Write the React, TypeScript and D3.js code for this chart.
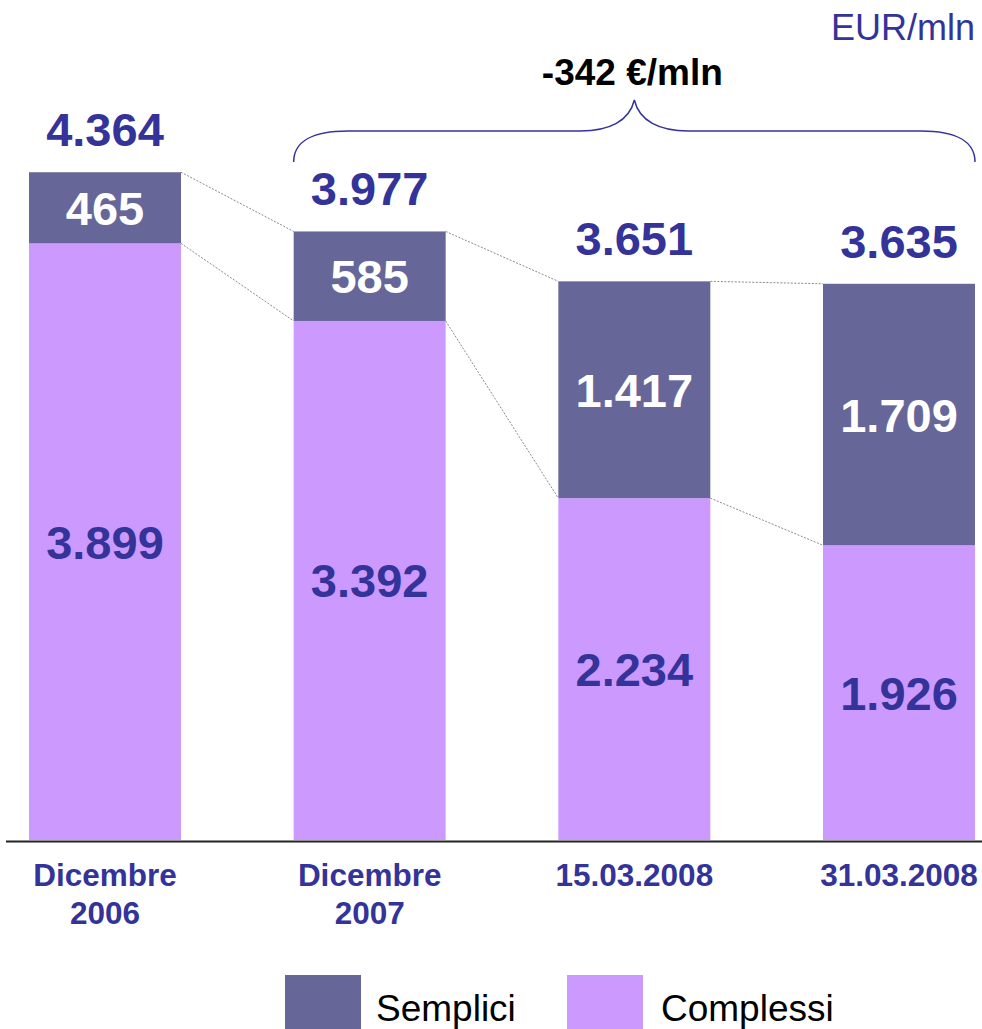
import React from "react";
import * as d3 from "d3";

const categories = ["Dicembre\n2006", "Dicembre\n2007", "15.03.2008", "31.03.2008"];
const semplici = [465, 585, 1417, 1709];
const complessi = [3899, 3392, 2234, 1926];
const totals = [4364, 3977, 3651, 3635];
const totalLabels = ["4.364", "3.977", "3.651", "3.635"];
const sempliciLabels = ["465", "585", "1.417", "1.709"];
const complessiLabels = ["3.899", "3.392", "2.234", "1.926"];
const seriesNames = ["Semplici", "Complessi"];
const deltaLabel = "-342 €/mln";
const unitLabel = "EUR/mln";

const W = 982;
const H = 1029;
const DARK = "#666699";
const LIGHT = "#CC99FF";
const TEXT = "#333399";
const FONT = "'Liberation Sans', Arial, Helvetica, sans-serif";

export default function App() {
  const x = d3.scaleBand<string>().domain(categories).range([29, 975]).paddingInner(0.4257).paddingOuter(0);
  const y = d3.scaleLinear().domain([0, 4444]).range([840, 160]);
  const bw = x.bandwidth();

  const bars = categories.map((c, i) => {
    const x0 = x(c) as number;
    const yBase = y(0);
    const yMid = y(complessi[i]);
    const yTop = y(complessi[i] + semplici[i]);
    return { c, i, x0, yBase, yMid, yTop };
  });

  const connectors: { x1: number; y1: number; x2: number; y2: number }[] = [];
  for (let i = 0; i < bars.length - 1; i++) {
    const a = bars[i];
    const b = bars[i + 1];
    connectors.push({ x1: a.x0 + bw, y1: a.yTop, x2: b.x0, y2: b.yTop });
    connectors.push({ x1: a.x0 + bw, y1: a.yMid, x2: b.x0, y2: b.yMid });
  }

  // brace spanning bar 2 to bar 4
  const bL = bars[1].x0;
  const bR = bars[3].x0 + bw;
  const bM = (bL + bR) / 2;
  const yEnd = 162;
  const yH = 131;
  const yTip = 100;
  const brace = d3.path();
  brace.moveTo(bL, yEnd);
  brace.bezierCurveTo(bL, yH + 10, bL + 20, yH, bL + 54, yH);
  brace.lineTo(bM - 54, yH);
  brace.bezierCurveTo(bM - 25, yH, bM - 5, yH - 10, bM, yTip);
  brace.bezierCurveTo(bM + 5, yH - 10, bM + 25, yH, bM + 54, yH);
  brace.lineTo(bR - 54, yH);
  brace.bezierCurveTo(bR - 20, yH, bR, yH + 10, bR, yEnd);

  return (
    <svg width={W} height={H} style={{ position: "absolute", left: 0, top: 0, background: "#fff" }} fontFamily={FONT}>
      {/* connectors */}
      {connectors.map((l, k) => (
        <line key={"c" + k} x1={l.x1} y1={l.y1} x2={l.x2} y2={l.y2} stroke="#8a8a8a" strokeWidth={1} strokeDasharray="2,1.5" />
      ))}
      {/* bars */}
      {bars.map((b) => (
        <g key={b.c}>
          <rect x={b.x0} y={b.yMid} width={bw} height={b.yBase - b.yMid} fill={LIGHT} />
          <rect x={b.x0} y={b.yTop} width={bw} height={b.yMid - b.yTop} fill={DARK} />
          <text x={b.x0 + bw / 2} y={(b.yTop + b.yMid) / 2 + 17} textAnchor="middle" fontSize={47} fontWeight="bold" fill="#fff">
            {sempliciLabels[b.i]}
          </text>
          <text x={b.x0 + bw / 2} y={(b.yMid + b.yBase) / 2 + 17} textAnchor="middle" fontSize={47} fontWeight="bold" fill={TEXT}>
            {complessiLabels[b.i]}
          </text>
          <text x={b.x0 + bw / 2} y={y(totals[b.i]) - 26} textAnchor="middle" fontSize={47} fontWeight="bold" fill={TEXT}>
            {totalLabels[b.i]}
          </text>
          <text textAnchor="middle" fontSize={31.5} fontWeight="bold" fill={TEXT}>
            {b.c.split("\n").map((line, j) => (
              <tspan key={j} x={b.x0 + bw / 2} y={886 + j * 38}>
                {line}
              </tspan>
            ))}
          </text>
        </g>
      ))}
      {/* baseline */}
      <line x1={6} x2={W} y1={y(0) + 1.5} y2={y(0) + 1.5} stroke="#222" strokeWidth={2} />
      {/* brace */}
      <path d={brace.toString()} fill="none" stroke={TEXT} strokeWidth={1.5} />
      <text x={bM - 2} y={85} textAnchor="middle" fontSize={37} fontWeight="bold" fill="#000">
        {deltaLabel}
      </text>
      <text x={975} y={40} textAnchor="end" fontSize={36} fill={TEXT}>
        {unitLabel}
      </text>
      {/* legend */}
      <rect x={285} y={975} width={76} height={60} fill={DARK} />
      <text x={376} y={1021} fontSize={37} fill="#000">{seriesNames[0]}</text>
      <rect x={567} y={975} width={76} height={60} fill={LIGHT} />
      <text x={661} y={1021} fontSize={37} fill="#000">{seriesNames[1]}</text>
    </svg>
  );
}
